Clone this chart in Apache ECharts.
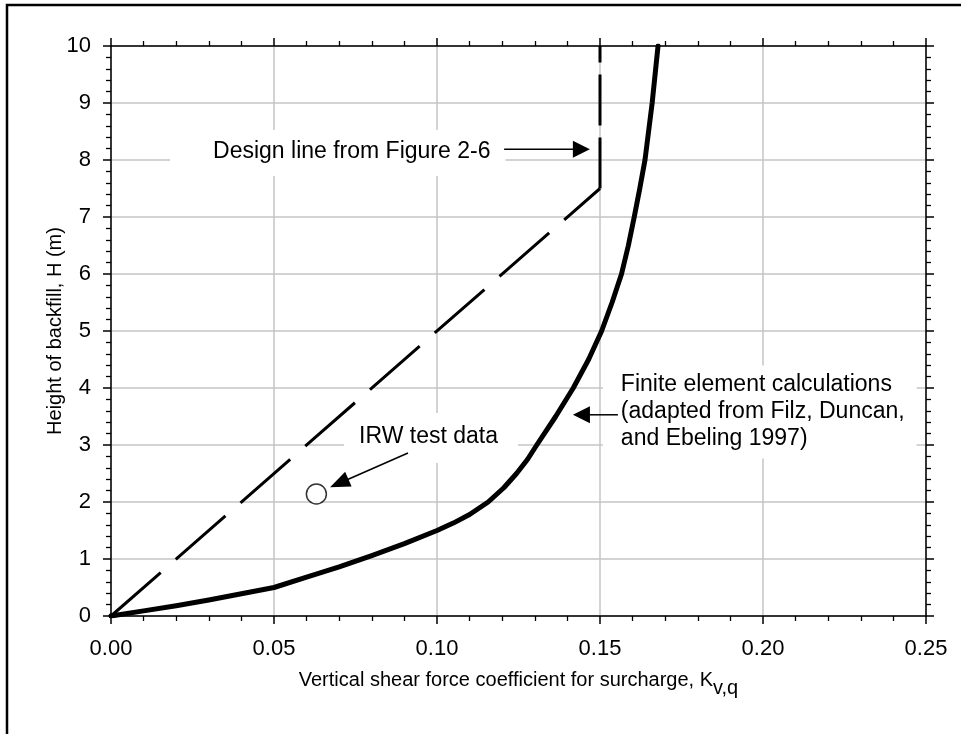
<!DOCTYPE html>
<html>
<head>
<meta charset="utf-8">
<script src="https://cdn.jsdelivr.net/npm/echarts@6/dist/echarts.min.js"></script>
<style>
html,body{margin:0;padding:0;background:#fff;}
#chart{width:961px;height:734px;}
</style>
</head>
<body>
<div id="chart"></div>
<script>
// ---- data ----
const feK = [0, 0.01, 0.02, 0.03, 0.04, 0.05, 0.06, 0.07, 0.08, 0.09, 0.10, 0.105, 0.11, 0.1157, 0.1205, 0.1244, 0.1278, 0.1306, 0.1364, 0.1418, 0.1465, 0.1505, 0.1537, 0.1566, 0.1587, 0.1605, 0.1622, 0.1638, 0.1660, 0.1678];
const feH = [0, 0.09, 0.18, 0.28, 0.39, 0.50, 0.68, 0.86, 1.06, 1.27, 1.50, 1.63, 1.78, 2.00, 2.25, 2.50, 2.75, 3.00, 3.50, 4.00, 4.50, 5.00, 5.50, 6.00, 6.50, 7.00, 7.50, 8.00, 9.00, 10.00];
const designDiagK = [0, 0.15];
const designDiagH = [0, 7.5];
const designVertK = [0.15, 0.15];
const designVertH = [7.5, 10];
const irwK = [0.063];
const irwH = [2.14];
const xTickValues = [0, 0.05, 0.10, 0.15, 0.20, 0.25];
const yTickValues = [0, 1, 2, 3, 4, 5, 6, 7, 8, 9, 10];

// annotation anchors (text top-left) in data coordinates
const designText = {k: 0.0313, h: 8.35, text: 'Design line from Figure 2-6'};
const designArrow = {from: [0.1206, 8.19], to: [0.1469, 8.19]};
const irwText = {k: 0.0761, h: 3.35, text: 'IRW test data'};
const irwArrow = {from: [0.0911, 2.86], to: [0.0672, 2.26]};
const feText = {k: 0.1564, h: 4.29, text: 'Finite element calculations\n(adapted from Filz, Duncan,\nand Ebeling 1997)'};
const feArrow = {from: [0.1555, 3.53], to: [0.1417, 3.53]};

const FONT = '"Liberation Sans", Arial, sans-serif';
const zip = (a, b) => a.map((v, i) => [v, b[i]]);

const chart = echarts.init(document.getElementById('chart'), null, {renderer: 'canvas'});

const axisCommonX = {
  type: 'value', min: 0, max: 0.25, interval: 0.05,
  axisLine: {show: true, onZero: false, lineStyle: {color: '#000', width: 1.5}},
  axisTick: {show: true, length: 8, lineStyle: {color: '#000', width: 1.5}},
  minorTick: {show: true, splitNumber: 5, length: 5, lineStyle: {color: '#000', width: 1.3}},
  minorSplitLine: {show: false}
};
const axisCommonY = {
  type: 'value', min: 0, max: 10, interval: 1,
  axisLine: {show: true, onZero: false, lineStyle: {color: '#000', width: 1.5}},
  axisTick: {show: true, length: 8, lineStyle: {color: '#000', width: 1.5}},
  minorTick: {show: true, splitNumber: 5, length: 5, lineStyle: {color: '#000', width: 1.3}},
  minorSplitLine: {show: false}
};

const option = {
  animation: false,
  backgroundColor: '#fff',
  grid: {left: 111, top: 46, right: 35, bottom: 118, containLabel: false},
  xAxis: [
    Object.assign({}, axisCommonX, {
      position: 'bottom',
      splitLine: {show: true, lineStyle: {color: '#c4c4c4', width: 1.5}},
      axisLabel: {show: true, fontSize: 22, fontFamily: FONT, color: '#000', margin: 22,
        formatter: v => xTickValues.includes(+v.toFixed(2)) ? v.toFixed(2) : ''},
      name: 'Vertical shear force coefficient for surcharge, K{sub|v,q}',
      nameLocation: 'middle', nameGap: 46, nameMoveOverlap: false,
      nameTextStyle: {fontSize: 20, fontFamily: FONT, color: '#000',
        rich: {sub: {fontSize: 20, fontFamily: FONT, color: '#000', padding: [16, 0, 0, 0]}}}
    }),
    Object.assign({}, axisCommonX, {
      position: 'top',
      splitLine: {show: false},
      axisLabel: {show: false}
    })
  ],
  yAxis: [
    Object.assign({}, axisCommonY, {
      position: 'left',
      splitLine: {show: true, lineStyle: {color: '#c4c4c4', width: 1.5}},
      axisLabel: {show: true, fontSize: 22, fontFamily: FONT, color: '#000', margin: 20,
        formatter: v => yTickValues.includes(v) ? String(v) : ''},
      name: 'Height of backfill, H (m)',
      nameLocation: 'middle', nameGap: 46, nameRotate: 90, nameMoveOverlap: false,
      nameTextStyle: {fontSize: 20, fontFamily: FONT, color: '#000'}
    }),
    Object.assign({}, axisCommonY, {
      position: 'right',
      splitLine: {show: false},
      axisLabel: {show: false}
    })
  ],
  series: [
    {
      name: 'Finite element', type: 'line', xAxisIndex: 0, yAxisIndex: 0,
      data: zip(feK, feH), showSymbol: false, symbol: 'none',
      lineStyle: {color: '#000', width: 5, join: 'round', cap: 'round'}, z: 3
    },
    {
      name: 'Design diag', type: 'line', xAxisIndex: 0, yAxisIndex: 0,
      data: zip(designDiagK, designDiagH), showSymbol: false, symbol: 'none',
      lineStyle: {color: '#000', width: 3, type: [66, 20], cap: 'butt'}, z: 3
    },
    {
      name: 'Design vertical', type: 'line', xAxisIndex: 0, yAxisIndex: 0,
      data: zip(designVertK, designVertH), showSymbol: false, symbol: 'none',
      lineStyle: {color: '#000', width: 3, type: [51, 12], cap: 'butt'}, z: 3
    },
    {
      name: 'IRW test data', type: 'scatter', xAxisIndex: 0, yAxisIndex: 0,
      data: zip(irwK, irwH), symbol: 'circle', symbolSize: 20,
      itemStyle: {color: '#fff', borderColor: '#000', borderWidth: 1.5}, z: 4
    }
  ]
};
chart.setOption(option);

function px(k, h) { return chart.convertToPixel({xAxisIndex: 0, yAxisIndex: 0}, [k, h]); }

function arrowEls(a, headLen, headHalf) {
  const p0 = px(a.from[0], a.from[1]);
  const p1 = px(a.to[0], a.to[1]);
  const dx = p1[0] - p0[0], dy = p1[1] - p0[1];
  const len = Math.sqrt(dx * dx + dy * dy);
  const ux = dx / len, uy = dy / len;
  const bx = p1[0] - ux * headLen, by = p1[1] - uy * headLen;
  const nx = -uy, ny = ux;
  return [
    {type: 'line', z: 20, shape: {x1: p0[0], y1: p0[1], x2: bx + ux * 2, y2: by + uy * 2},
     style: {stroke: '#000', lineWidth: 1.5}},
    {type: 'polygon', z: 20, shape: {points: [[p1[0], p1[1]], [bx + nx * headHalf, by + ny * headHalf], [bx - nx * headHalf, by - ny * headHalf]]},
     style: {fill: '#000'}}
  ];
}

function textEl(t, padding, lineHeight) {
  const p = px(t.k, t.h);
  return {type: 'text', z: 1, x: p[0] - padding[3], y: p[1] - padding[0],
    style: {text: t.text, fill: '#000', font: '23px ' + FONT, align: 'left', verticalAlign: 'top',
      lineHeight: lineHeight, backgroundColor: '#fff', padding: padding}};
}

const graphics = [
  {type: 'rect', z: 1, shape: {x: 7, y: 5, width: 1100, height: 1100}, style: {fill: 'none', stroke: '#000', lineWidth: 2.5}},
  textEl(designText, [10, 15, 12, 43], 24),
  textEl(irwText, [12, 20, 14, 15], 24),
  textEl(feText, [6, 12, 6, 18], 27)
].concat(arrowEls(designArrow, 17, 8.5), arrowEls(irwArrow, 20, 8), arrowEls(feArrow, 17, 8.5));

chart.setOption({graphic: {elements: graphics}});
</script>
</body>
</html>
